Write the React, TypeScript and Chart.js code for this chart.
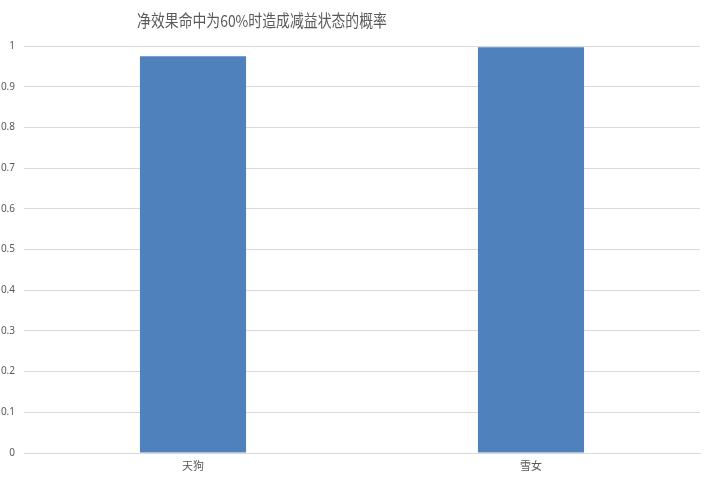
import React, { useEffect, useRef } from "react";
import { Chart, registerables } from "chart.js";

Chart.register(...registerables);

const titleText = "净效果命中为60%时造成减益状态的概率";
const categories = ["天狗", "雪女"];
const probabilities = [0.975, 0.997];

const titlePlugin = {
  id: "customTitle",
  afterDraw(chart: any) {
    const ctx = chart.ctx;
    ctx.save();
    ctx.translate(262, 21);
    ctx.scale(0.84, 1);
    ctx.font = '16.5px "Noto Sans CJK SC", sans-serif';
    ctx.fillStyle = "#595959";
    ctx.textAlign = "center";
    ctx.textBaseline = "middle";
    ctx.fillText(titleText, 0, 0);
    ctx.restore();
  },
};

export default function App() {
  const ref = useRef<HTMLCanvasElement>(null);
  useEffect(() => {
    if (!ref.current) return;
    const chart = new Chart(ref.current, {
      type: "bar",
      data: {
        labels: categories,
        datasets: [
          {
            data: probabilities,
            backgroundColor: "#4F81BD",
            categoryPercentage: 1,
            barPercentage: 0.314,
          },
        ],
      },
      options: {
        animation: false,
        responsive: false,
        layout: { padding: { top: 46, right: 8, bottom: 0, left: 0 } },
        plugins: { legend: { display: false }, title: { display: false }, tooltip: { enabled: false } },
        scales: {
          x: {
            grid: { display: false, drawTicks: false },
            border: { color: "#d9d9d9", width: 1 },
            ticks: { color: "#595959", font: { size: 11, family: '"Noto Sans CJK SC", sans-serif' }, padding: 6 },
            afterFit: (s: any) => { s.height = 26; },
          },
          y: {
            min: 0,
            max: 1,
            ticks: {
              stepSize: 0.1,
              color: "#595959",
              font: { size: 10, family: '"Noto Sans", sans-serif' },
              padding: 9,
              callback: (v: any) => String(Number(Number(v).toFixed(1))),
            },
            grid: { color: "#d9d9d9", drawTicks: false },
            border: { display: false },
            afterFit: (s: any) => { s.width = 24; },
          },
        },
      },
      plugins: [titlePlugin],
    });
    return () => chart.destroy();
  }, []);
  return (
    <div style={{ position: "fixed", left: 0, top: 0, width: 708, height: 479, background: "#fff" }}>
      <canvas ref={ref} width={708} height={479} />
    </div>
  );
}
